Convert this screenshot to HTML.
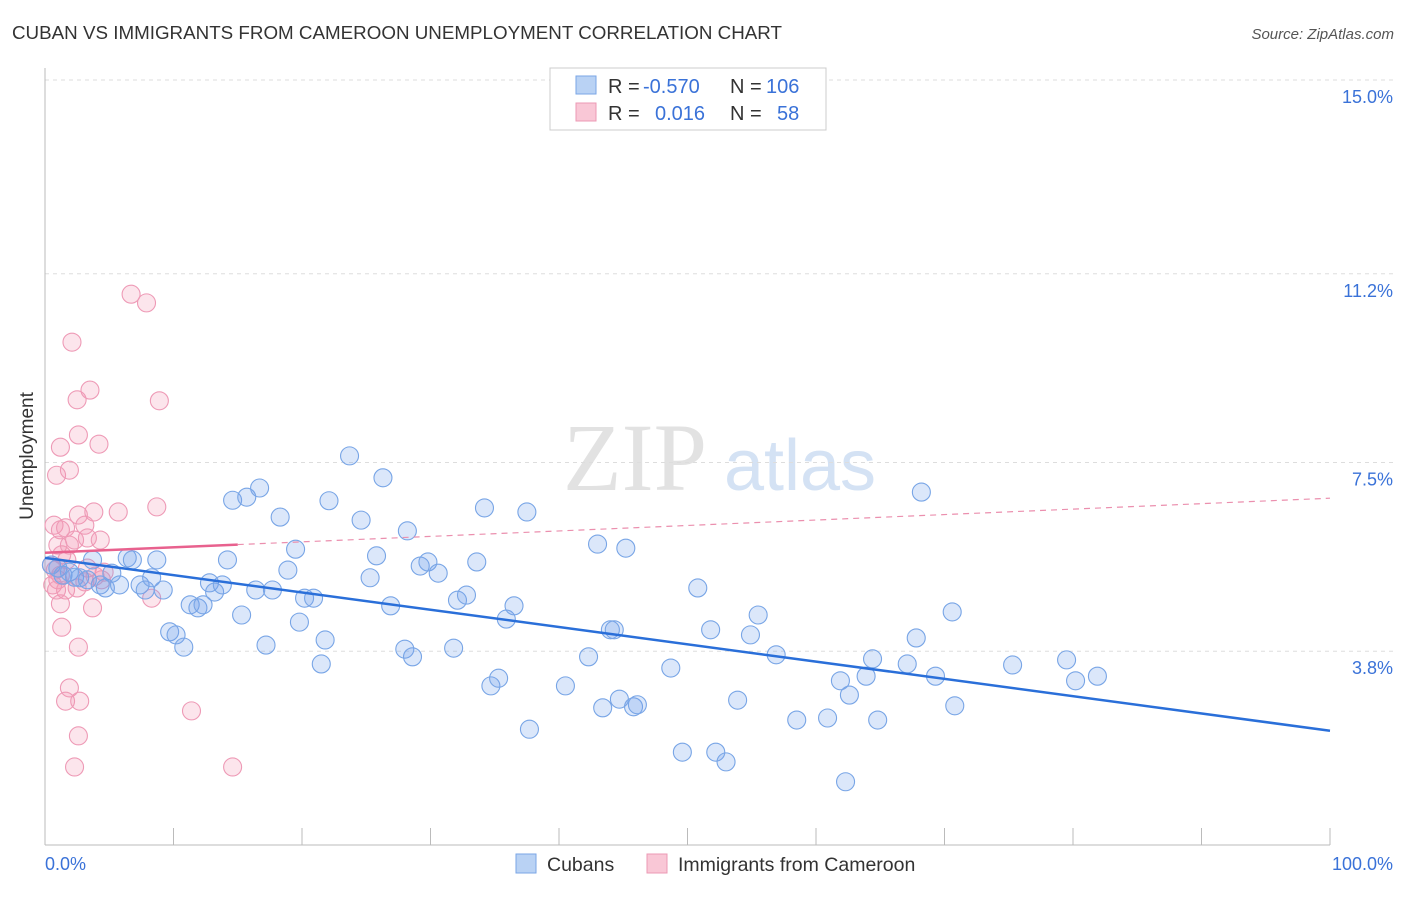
<!DOCTYPE html>
<html><head><meta charset="utf-8"><style>
body{margin:0;background:#fff;font-family:"Liberation Sans",sans-serif;}
</style></head><body>
<svg width="1406" height="892" xmlns="http://www.w3.org/2000/svg" id="chart">
<text x="12" y="39" font-size="18" fill="#333" textLength="770" lengthAdjust="spacingAndGlyphs">CUBAN VS IMMIGRANTS FROM CAMEROON UNEMPLOYMENT CORRELATION CHART</text>
<text x="1394" y="39" font-size="15" fill="#555" text-anchor="end" font-style="italic">Source: ZipAtlas.com</text>
<text x="635" y="490" font-size="96" fill="#e2e2e2" font-family="Liberation Serif,serif" text-anchor="middle">ZIP</text>
<text x="800" y="490" font-size="72" fill="#d4e2f4" text-anchor="middle">atlas</text>
<g id="grid"></g>
<line x1="45" y1="68" x2="45" y2="845" stroke="#bbb"/>
<line x1="45" y1="845" x2="1330" y2="845" stroke="#bbb"/>
<text x="33" y="456" font-size="19" fill="#333" text-anchor="middle" transform="rotate(-90 33 456)">Unemployment</text>
<text x="45" y="870" font-size="18" fill="#3a72d8">0.0%</text>
<text x="1393" y="870" font-size="18" fill="#3a72d8" text-anchor="end">100.0%</text>
<g id="marks"></g>
<g>
<rect x="550" y="68" width="276" height="62" fill="#fff" stroke="#ccc"/>
<rect x="576" y="76" width="20" height="18" fill="#b9d2f4" stroke="#7aa6e6"/>
<rect x="576" y="103" width="20" height="18" fill="#f9c7d6" stroke="#ec9ab4"/>
<text x="608" y="93" font-size="20" fill="#333">R = <tspan x="643" fill="#3a72d8">-0.570</tspan><tspan x="730">N = </tspan><tspan x="766" fill="#3a72d8">106</tspan></text>
<text x="608" y="120" font-size="20" fill="#333">R = <tspan x="655" fill="#3a72d8">0.016</tspan><tspan x="730">N = </tspan><tspan x="777" fill="#3a72d8">58</tspan></text>
</g>
<g>
<rect x="516" y="854" width="20" height="19" fill="#b9d2f4" stroke="#7aa6e6"/>
<text x="547" y="871" font-size="19.5" fill="#333">Cubans</text>
<rect x="647" y="854" width="20" height="19" fill="#f9c7d6" stroke="#ec9ab4"/>
<text x="678" y="871" font-size="19.5" fill="#333">Immigrants from Cameroon</text>
</g>
</svg>
<script>
const yTicks=[15.0,11.2,7.5,3.8];
const yTickLabels=["15.0%","11.2%","7.5%","3.8%"];
const xTicks=[0,10,20,30,40,50,60,70,80,90,100];
const cubanX=[0.5,1.0,1.4,1.9,2.3,2.7,3.3,3.7,4.3,4.7,5.2,5.8,6.4,6.8,7.4,7.8,8.3,8.7,9.2,9.7,10.2,10.8,11.3,11.9,12.3,12.8,13.2,13.8,14.2,14.6,15.3,15.7,16.7,16.4,17.2,17.7,18.3,18.9,19.5,19.8,20.2,20.9,21.5,21.8,22.1,23.7,24.6,25.3,25.8,26.3,26.9,28.0,28.2,28.6,29.2,29.8,30.6,31.8,32.1,32.8,33.6,34.2,34.7,35.3,35.9,36.5,37.5,37.7,40.5,42.3,43.0,43.4,44.7,45.2,45.8,46.1,44.0,44.3,48.7,49.6,50.8,51.8,52.2,53.0,53.9,54.9,55.5,56.9,58.5,60.9,61.9,62.3,62.6,63.9,64.4,64.8,67.1,67.8,68.2,69.3,70.6,70.8,75.3,79.5,80.2,81.9];
const cubanY=[5.49,5.43,5.29,5.35,5.25,5.24,5.20,5.59,5.10,5.04,5.33,5.10,5.63,5.59,5.10,5.0,5.24,5.59,5.0,4.18,4.12,3.88,4.71,4.65,4.71,5.14,4.96,5.10,5.59,6.76,4.51,6.82,7.0,5.0,3.92,5.0,6.43,5.39,5.80,4.37,4.84,4.84,3.55,4.02,6.75,7.63,6.37,5.24,5.67,7.20,4.69,3.84,6.16,3.69,5.47,5.55,5.33,3.86,4.80,4.90,5.55,6.61,3.12,3.27,4.43,4.69,6.53,2.27,3.12,3.69,5.90,2.69,2.86,5.82,2.71,2.75,4.22,4.22,3.47,1.82,5.04,4.22,1.82,1.63,2.84,4.12,4.51,3.73,2.45,2.49,3.22,1.24,2.94,3.31,3.65,2.45,3.55,4.06,6.92,3.31,4.57,2.73,3.53,3.63,3.22,3.31];
const camX=[0.5,0.8,1.0,0.6,1.2,1.6,0.7,1.2,1.6,1.0,1.3,1.9,2.3,2.6,3.1,3.3,3.8,4.3,3.3,3.9,4.6,0.9,1.2,1.9,2.6,4.2,2.5,3.5,2.1,6.7,7.9,8.9,5.7,8.7,4.4,1.2,1.3,3.7,2.5,8.3,2.6,1.9,1.6,2.7,2.6,2.3,11.4,14.6,3.1,1.7,0.9];
const camY=[5.49,5.39,5.20,5.10,5.29,5.0,6.27,6.18,6.22,5.88,5.69,5.88,5.98,6.47,6.27,6.02,6.53,5.98,5.43,5.27,5.35,7.25,7.80,7.35,8.04,7.86,8.73,8.92,9.86,10.80,10.63,8.71,6.53,6.63,5.20,4.73,4.27,4.65,5.04,4.84,3.88,3.08,2.82,2.82,2.14,1.53,2.63,1.53,5.16,5.59,5.0];
const cubanTrend=[5.63,2.24];
const camTrend=[5.73,6.80];
const camSolidEnd=15;
const NS="http://www.w3.org/2000/svg";
const xs=v=>45+v*12.85;
const ys=v=>80+(15-v)*51;
const grid=document.getElementById('grid'),marks=document.getElementById('marks');
function mk(tag,at,parent){const e=document.createElementNS(NS,tag);for(const k in at)e.setAttribute(k,at[k]);parent.appendChild(e);return e;}
yTicks.forEach((t,i)=>{
 const l=mk('line',{x1:45,x2:1393,y1:ys(t),y2:ys(t),stroke:'#ddd','stroke-dasharray':'4 4'},grid);
 
 
 const tx=mk('text',{x:1393,y:ys(t)+23,'font-size':18,fill:'#3a72d8','text-anchor':'end'},grid);
 tx.textContent=yTickLabels[i];
 
 
});
xTicks.forEach(t=>{
 const l=mk('line',{x1:xs(t),x2:xs(t),y1:828,y2:845,stroke:'#bbb'},grid);
 
 
});
camX.forEach((x,i)=>{
 const c=mk('circle',{cx:xs(x),cy:ys(camY[i]),r:9,fill:'rgba(243,150,180,0.25)',stroke:'#ee9ab6','stroke-width':1.1},marks);
 
 
});
cubanX.forEach((x,i)=>{
 const c=mk('circle',{cx:xs(x),cy:ys(cubanY[i]),r:9,fill:'rgba(110,160,235,0.25)',stroke:'#78a5e6','stroke-width':1.1},marks);
 
 
});
const bl=mk('line',{x1:xs(0),y1:ys(cubanTrend[0]),x2:xs(100),y2:ys(cubanTrend[1]),stroke:'#2a6fd9','stroke-width':2.5},marks);


const midY=camTrend[0]+(camTrend[1]-camTrend[0])*camSolidEnd/100;
const pl=mk('line',{x1:xs(0),y1:ys(camTrend[0]),x2:xs(camSolidEnd),y2:ys(midY),stroke:'#e8618e','stroke-width':2.5},marks);


const pd=mk('line',{x1:xs(camSolidEnd),y1:ys(midY),x2:xs(100),y2:ys(camTrend[1]),stroke:'#eb8fae','stroke-width':1.2,'stroke-dasharray':'6 5'},marks);


</script>
</body></html>
